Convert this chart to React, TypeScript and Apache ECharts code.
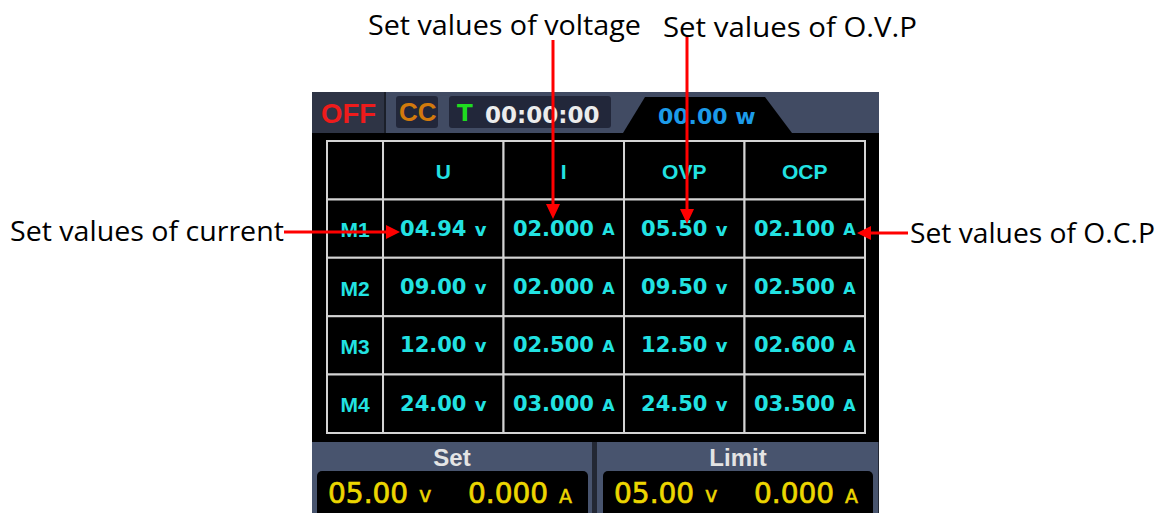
import React, { useEffect, useRef } from 'react';
import * as echarts from 'echarts';

// ---------- data ----------
const columnHeaders = ['', 'U', 'I', 'OVP', 'OCP'];
const columnUnits = ['', 'v', 'A', 'v', 'A'];
const memoryNames = ['M1', 'M2', 'M3', 'M4'];
const voltageValues = ['04.94', '09.00', '12.00', '24.00'];
const currentValues = ['02.000', '02.000', '02.500', '03.000'];
const ovpValues = ['05.50', '09.50', '12.50', '24.50'];
const ocpValues = ['02.100', '02.500', '02.600', '03.500'];
const outputState = 'OFF';
const modeState = 'CC';
const timerLabel = 'T';
const timerValue = '00:00:00';
const powerValue = '00.00';
const powerUnit = 'w';
const panelTitles = ['Set', 'Limit'];
const setReadout = ['05.00', '0.000'];
const limitReadout = ['05.00', '0.000'];
const readoutUnits = ['v', 'A'];
const calloutTexts = [
  'Set values of voltage',
  'Set values of O.V.P',
  'Set values of current',
  'Set values of O.C.P',
];

// ---------- styles ----------
const CYAN = '#22e2e2';
const YELLOW = '#ecd600';
const RED = '#ff0000';
const DV = '"DejaVu Sans", sans-serif';
const LS = '"Liberation Sans", Arial, sans-serif';
const OS = '"Open Sans", "Noto Sans", sans-serif';
const LABEL_COL = 0.465; // width of memory-name column in column units
const BASE_K = 0.346; // central-baseline offset ratio for DejaVu Sans

function measure(text: string, font: string): number {
  const c = document.createElement('canvas').getContext('2d');
  if (!c) return text.length * 10;
  c.font = font;
  return c.measureText(text).width || 1;
}

type Cell = { value: number[]; kind: string; label: string; unit?: string };

function buildCells(): Cell[] {
  const cells: Cell[] = [];
  columnHeaders.forEach((h, c) => cells.push({ value: [c, 0], kind: 'header', label: h }));
  const cols = [voltageValues, currentValues, ovpValues, ocpValues];
  memoryNames.forEach((m, i) => {
    cells.push({ value: [0, i + 1], kind: 'mem', label: m });
    cols.forEach((arr, j) =>
      cells.push({ value: [j + 1, i + 1], kind: 'val', label: arr[i], unit: columnUnits[j + 1] })
    );
  });
  return cells;
}

export default function App() {
  const ref = useRef<HTMLDivElement>(null);

  useEffect(() => {
    if (!ref.current) return;
    const chart = echarts.init(ref.current, null, { renderer: 'svg' });
    const cells = buildCells();

    const NUM_FS = 21;
    const numFont = `bold ${NUM_FS}px ${DV}`;
    const gap = measure(' ', numFont) + 1;

    const renderItem = (params: any, api: any) => {
      const cell = cells[params.dataIndex];
      const c = api.value(0);
      const r = api.value(1);
      const x0 = c === 0 ? 0 : LABEL_COL + c - 1;
      const x1 = c === 0 ? LABEL_COL : LABEL_COL + c;
      const p0 = api.coord([x0, r]);
      const p1 = api.coord([x1, r + 1]);
      const cx = (p0[0] + p1[0]) / 2;
      const cy = (p0[1] + p1[1]) / 2;
      const children: any[] = [
        {
          type: 'rect',
          shape: { x: p0[0], y: p0[1], width: p1[0] - p0[0], height: p1[1] - p0[1] },
          style: { fill: '#000000', stroke: '#d4d4d4', lineWidth: 2 },
        },
      ];
      if (cell.label) {
        if (cell.kind === 'val') {
          const unitFs = cell.unit === 'v' ? 18 : 16;
          const unitFont = `bold ${unitFs}px ${DV}`;
          const wn = measure(cell.label, numFont);
          const wu = measure(cell.unit || '', unitFont);
          const start = cx - (wn + gap + wu) / 2;
          children.push({
            type: 'text',
            style: {
              x: start,
              y: cy,
              text: cell.label,
              align: 'left',
              verticalAlign: 'middle',
              fill: CYAN,
              fontFamily: DV,
              fontWeight: 'bold',
              fontSize: NUM_FS,
            },
          });
          children.push({
            type: 'text',
            style: {
              x: start + wn + gap,
              y: cy + BASE_K * (NUM_FS - unitFs) - 0.5,
              text: cell.unit,
              align: 'left',
              verticalAlign: 'middle',
              fill: CYAN,
              fontFamily: DV,
              fontWeight: 'bold',
              fontSize: unitFs,
            },
          });
        } else {
          children.push({
            type: 'text',
            style: {
              x: cx,
              y: cy + 1,
              text: cell.label,
              align: 'center',
              verticalAlign: 'middle',
              fill: CYAN,
              fontFamily: LS,
              fontWeight: 'bold',
              fontSize: 21,
            },
          });
        }
      }
      return { type: 'group', children };
    };

    const calloutFont = `28px ${OS}`;
    const callouts = [
      { text: calloutTexts[0], x: 368, y: 24, w: 273 },
      { text: calloutTexts[1], x: 663, y: 26, w: 254 },
      { text: calloutTexts[2], x: 10, y: 230, w: 274 },
      { text: calloutTexts[3], x: 910, y: 232, w: 245 },
    ].map((d) => ({
      type: 'text',
      x: d.x,
      y: d.y,
      scaleX: d.w / measure(d.text, calloutFont),
      z: 100,
      style: {
        text: d.text,
        x: 0,
        y: 0,
        align: 'left',
        verticalAlign: 'middle',
        fill: '#000000',
        fontFamily: OS,
        fontSize: 28,
      },
    }));

    const redLine = (x1: number, y1: number, x2: number, y2: number) => ({
      type: 'line',
      z: 100,
      shape: { x1, y1, x2, y2 },
      style: { stroke: RED, lineWidth: 3 },
    });
    const redHead = (pts: number[][]) => ({
      type: 'polygon',
      z: 100,
      shape: { points: pts },
      style: { fill: RED },
    });

    const RD_FS = 28;
    const rdFont = `${RD_FS}px ${DV}`;
    const rdGap = measure(' ', rdFont) + 2;
    const readoutPart = (num: string, unit: string, unitFs: number, x: number, y: number) => {
      const wn = measure(num, rdFont);
      return [
        {
          type: 'text',
          style: {
            x, y, text: num, align: 'left', verticalAlign: 'middle',
            fill: YELLOW, stroke: YELLOW, lineWidth: 0.7, fontFamily: DV, fontSize: RD_FS,
          },
        },
        {
          type: 'text',
          style: {
            x: x + wn + rdGap, y: y + BASE_K * (RD_FS - unitFs) - 0.5, text: unit, align: 'left', verticalAlign: 'middle',
            fill: YELLOW, stroke: YELLOW, lineWidth: 0.5, fontFamily: DV, fontSize: unitFs,
          },
        },
      ];
    };
    const readout = (vals: string[], boxX: number) => [
      ...readoutPart(vals[0], readoutUnits[0], 21, boxX + 11, 493.5),
      ...readoutPart(vals[1], readoutUnits[1], 19, boxX + 151, 493.5),
    ];

    const graphic: any[] = [
      // screen body
      { type: 'rect', shape: { x: 312, y: 92, width: 567, height: 350 }, style: { fill: '#000000' } },
      // top status bar
      { type: 'rect', shape: { x: 312, y: 92, width: 567, height: 41 }, style: { fill: '#414b63' } },
      { type: 'rect', shape: { x: 312, y: 92, width: 72, height: 41 }, style: { fill: '#2e3445' } },
      { type: 'rect', shape: { x: 384, y: 92, width: 2, height: 41 }, style: { fill: '#1b1f29' } },
      { type: 'rect', shape: { x: 396, y: 96, width: 42, height: 32, r: 3 }, style: { fill: '#22273a' } },
      { type: 'rect', shape: { x: 449, y: 96, width: 162, height: 32, r: 3 }, style: { fill: '#22273a' } },
      {
        type: 'polygon',
        shape: { points: [[623, 133], [645, 97], [765, 97], [792, 133]] },
        style: { fill: '#000000' },
      },
      {
        type: 'text',
        style: { x: 321, y: 113, text: outputState, align: 'left', verticalAlign: 'middle', fill: '#ee1b1b', fontFamily: LS, fontWeight: 'bold', fontSize: 27.5 },
      },
      {
        type: 'text',
        style: { x: 399, y: 112, text: modeState, align: 'left', verticalAlign: 'middle', fill: '#d27a0c', fontFamily: LS, fontWeight: 'bold', fontSize: 26 },
      },
      {
        type: 'text',
        style: { x: 457, y: 113, text: timerLabel, align: 'left', verticalAlign: 'middle', fill: '#1fdc1f', fontFamily: DV, fontWeight: 'bold', fontSize: 23 },
      },
      {
        type: 'text',
        style: { x: 485, y: 115, text: timerValue, align: 'left', verticalAlign: 'middle', fill: '#ececec', fontFamily: DV, fontWeight: 'bold', fontSize: 23 },
      },
      {
        type: 'text',
        style: { x: 658, y: 116, text: `${powerValue} ${powerUnit}`, align: 'left', verticalAlign: 'middle', fill: '#1c9be8', fontFamily: DV, fontWeight: 'bold', fontSize: 22 },
      },
      // bottom panels
      { type: 'rect', shape: { x: 312, y: 442, width: 567, height: 71 }, style: { fill: '#232834' } },
      { type: 'rect', shape: { x: 312, y: 442, width: 280, height: 71 }, style: { fill: '#48546e' } },
      { type: 'rect', shape: { x: 597, y: 442, width: 281, height: 71 }, style: { fill: '#48546e' } },
      { type: 'rect', shape: { x: 317, y: 471, width: 271, height: 50, r: 5 }, style: { fill: '#000000' } },
      { type: 'rect', shape: { x: 603, y: 471, width: 270, height: 50, r: 5 }, style: { fill: '#000000' } },
      {
        type: 'text',
        style: { x: 452, y: 457, text: panelTitles[0], align: 'center', verticalAlign: 'middle', fill: '#e4e4e4', fontFamily: LS, fontWeight: 'bold', fontSize: 24 },
      },
      {
        type: 'text',
        style: { x: 738, y: 457, text: panelTitles[1], align: 'center', verticalAlign: 'middle', fill: '#e4e4e4', fontFamily: LS, fontWeight: 'bold', fontSize: 24 },
      },
      ...readout(setReadout, 317),
      ...readout(limitReadout, 603),
      // callouts
      ...callouts,
      redLine(553, 40, 553, 206),
      redHead([[546, 204], [560, 204], [553, 219]]),
      redLine(687, 37, 687, 211),
      redHead([[680, 209], [694, 209], [687, 224]]),
      redLine(284, 232, 388, 232),
      redHead([[386, 225], [386, 239], [400, 232]]),
      redLine(908, 233, 869, 233),
      redHead([[871, 226], [871, 240], [857, 233]]),
    ];

    chart.setOption({
      animation: false,
      backgroundColor: '#ffffff',
      grid: { left: 327, top: 141, width: 538, height: 292, show: false },
      xAxis: { type: 'value', min: 0, max: LABEL_COL + 4, show: false },
      yAxis: { type: 'value', min: 0, max: 5, inverse: true, show: false },
      graphic,
      series: [
        {
          type: 'custom',
          renderItem,
          data: cells.map((c) => c.value),
          z: 10,
          silent: true,
        },
      ],
    });

    return () => chart.dispose();
  }, []);

  return (
    <div
      ref={ref}
      style={{ position: 'fixed', left: 0, top: 0, width: 1171, height: 513, background: '#ffffff' }}
    />
  );
}
